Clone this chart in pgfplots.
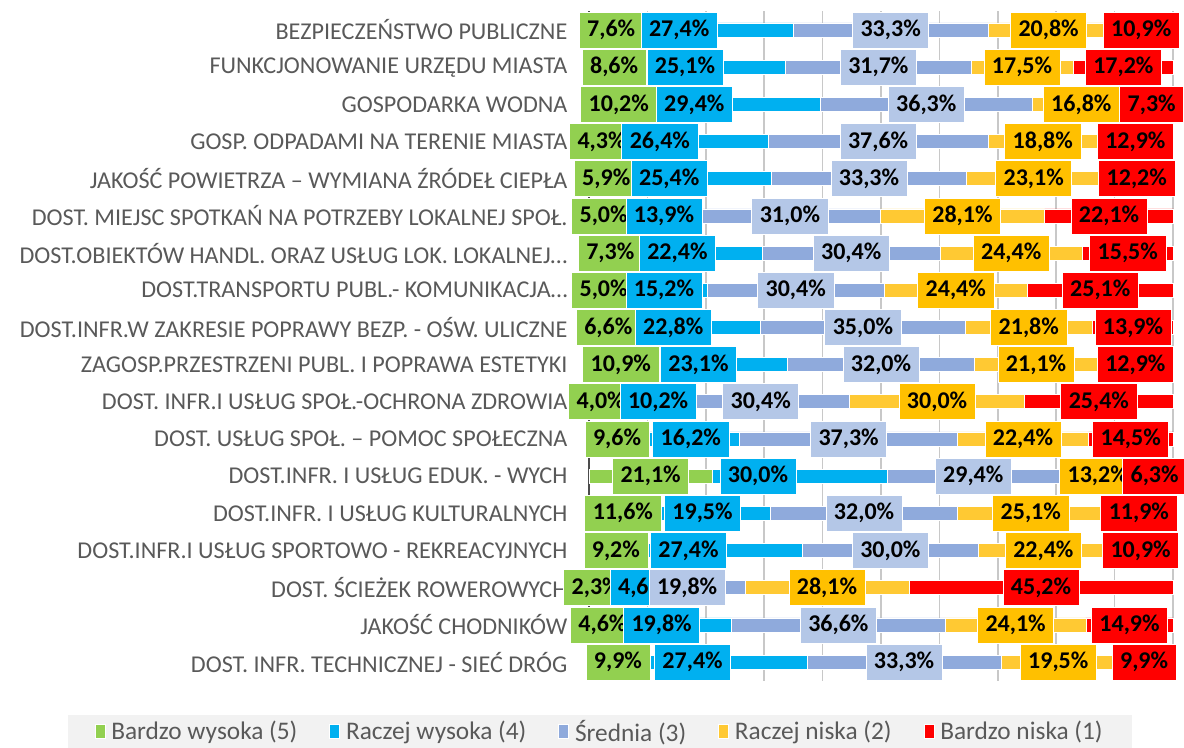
\documentclass[border=0pt]{standalone}
\usepackage{pgfplots}
\pgfplotsset{compat=1.18}
\usepackage{pgfplotstable}
\usepackage{fontspec}
\setmainfont{Carlito}
\definecolor{cA}{HTML}{92D050}
\definecolor{cB}{HTML}{00B0F0}
\definecolor{cC}{HTML}{8FAADC}
\definecolor{cCl}{HTML}{B4C7E7}
\definecolor{cD}{HTML}{FFC933}
\definecolor{cDl}{HTML}{FFC000}
\definecolor{cE}{HTML}{FF0000}
\definecolor{txtgray}{HTML}{595959}
\definecolor{gridgray}{HTML}{C8C8C8}
\definecolor{leggray}{HTML}{F2F2F2}

\pgfplotstableread{
idx a b c d e
0 7.6 27.4 33.3 20.8 10.9
1 8.6 25.1 31.7 17.5 17.2
2 10.2 29.4 36.3 16.8 7.3
3 4.3 26.4 37.6 18.8 12.9
4 5.9 25.4 33.3 23.1 12.2
5 5.0 13.9 31.0 28.1 22.1
6 7.3 22.4 30.4 24.4 15.5
7 5.0 15.2 30.4 24.4 25.1
8 6.6 22.8 35.0 21.8 13.9
9 10.9 23.1 32.0 21.1 12.9
10 4.0 10.2 30.4 30.0 25.4
11 9.6 16.2 37.3 22.4 14.5
12 21.1 30.0 29.4 13.2 6.3
13 11.6 19.5 32.0 25.1 11.9
14 9.2 27.4 30.0 22.4 10.9
15 2.3 4.6 19.8 28.1 45.2
16 4.6 19.8 36.6 24.1 14.9
17 9.9 27.4 33.3 19.5 9.9
}\data

\pgfplotsset{
  common/.style={
    at={(441.75pt,49.8pt)}, anchor=south west,
    scale only axis, width=438pt, height=501.9pt,
    xmin=0, xmax=100, ymin=-0.5, ymax=17.5, y dir=reverse,
    clip=false,
  },
  lblplot/.style={draw=none, mark=none, point meta=explicit,
    nodes near coords={\pgfmathprintnumber[fixed,fixed zerofill,precision=1,use comma,assume math mode=true]{\pgfplotspointmeta}\%}},
}
\tikzset{
  lbl/.style={font=\fontsize{18}{18}\bfseries\selectfont, text=black, inner xsep=6pt, inner ysep=0pt,
    minimum height=27pt, draw=white, line width=0.5pt, fill=#1},
}

\begin{document}
\begin{tikzpicture}
\path[use as bounding box] (0,0) rectangle (888pt,560.25pt);
\begin{axis}[
  common,
  xbar stacked, bar width=10.5pt,
  axis x line*=bottom, axis y line*=left,
  x axis line style={draw=none},
  y axis line style={draw=black!70, line width=1.5pt},
  xtick={0,10,...,100}, xticklabels={,,},
  xmajorgrids, major grid style={draw=gridgray, line width=1.2pt},
  ytick={0,...,17},
  yticklabels={
    {BEZPIECZEŃSTWO PUBLICZNE},
    {FUNKCJONOWANIE URZĘDU MIASTA},
    {GOSPODARKA WODNA\ },
    {GOSP. ODPADAMI NA TERENIE MIASTA},
    {JAKOŚĆ POWIETRZA – WYMIANA ŹRÓDEŁ CIEPŁA},
    {DOST. MIEJSC SPOTKAŃ NA POTRZEBY LOKALNEJ SPOŁ.},
    {DOST.OBIEKTÓW HANDL. ORAZ USŁUG LOK. LOKALNEJ…},
    {DOST.TRANSPORTU PUBL.- KOMUNIKACJA…},
    {DOST.INFR.W ZAKRESIE POPRAWY BEZP. - OŚW. ULICZNE},
    {ZAGOSP.PRZESTRZENI PUBL. I POPRAWA ESTETYKI},
    {DOST. INFR.I USŁUG SPOŁ.-OCHRONA ZDROWIA},
    {DOST. USŁUG SPOŁ. – POMOC SPOŁECZNA},
    {DOST.INFR. I USŁUG EDUK. - WYCH},
    {DOST.INFR. I USŁUG KULTURALNYCH\ },
    {DOST.INFR.I USŁUG SPORTOWO - REKREACYJNYCH},
    {DOST. ŚCIEŻEK ROWEROWYCH},
    {JAKOŚĆ CHODNIKÓW},
    {DOST. INFR. TECHNICZNEJ - SIEĆ DRÓG}
  },
  tick style={draw=none},
  yticklabel style={font=\fontsize{18.1}{18}\selectfont, text=txtgray, anchor=east, inner sep=0pt, xshift=-16pt},
  legend columns=-1,
  legend cell align=left,
  legend image code/.code={\fill[#1] (0pt,-5pt) rectangle (7.5pt,5pt); \path (10pt,0pt);},
  legend style={
    at={(0.0188,-0.076)}, anchor=center,
    fill=leggray, draw=none,
    font=\fontsize{19}{19}\selectfont, text=txtgray,
    inner xsep=20pt, inner ysep=2pt,
    /tikz/every even column/.append style={column sep=22pt},
  },
]
\addplot[fill=cA, draw=white, line width=0.5pt] table[x=a,y=idx]{\data};
\addlegendentry{Bardzo wysoka (5)}
\addplot[fill=cB, draw=white, line width=0.5pt] table[x=b,y=idx]{\data};
\addlegendentry{Raczej wysoka (4)}
\addplot[fill=cC, draw=white, line width=0.5pt] table[x=c,y=idx]{\data};
\addlegendentry{Średnia (3)}
\addplot[fill=cD, draw=white, line width=0.5pt] table[x=d,y=idx]{\data};
\addlegendentry{Raczej niska (2)}
\addplot[fill=cE, draw=white, line width=0.5pt] table[x=e,y=idx]{\data};
\addlegendentry{Bardzo niska (1)}
\end{axis}

\begin{axis}[common, hide axis]
\addplot[lblplot, nodes near coords align={center}, every node near coord/.style={lbl=cA, anchor=center}]
  table[x expr=\thisrow{a}/2, y=idx, meta=a]{\data};
\addplot[lblplot, nodes near coords align={west}, every node near coord/.style={lbl=cB, anchor=west, xshift=5.5pt}]
  table[x expr=\thisrow{a}, y=idx, meta=b]{\data};
\addplot[lblplot, nodes near coords align={center}, every node near coord/.style={lbl=cCl, anchor=center}]
  table[x expr=\thisrow{a}+\thisrow{b}+\thisrow{c}/2, y=idx, meta=c]{\data};
\addplot[lblplot, nodes near coords align={center}, every node near coord/.style={lbl=cDl, anchor=center}]
  table[x expr=\thisrow{a}+\thisrow{b}+\thisrow{c}+\thisrow{d}/2, y=idx, meta=d]{\data};
\addplot[lblplot, nodes near coords align={center}, every node near coord/.style={lbl=cE, anchor=center}]
  table[x expr=\thisrow{a}+\thisrow{b}+\thisrow{c}+\thisrow{d}+\thisrow{e}/2, y=idx, meta=e]{\data};
\end{axis}
\end{tikzpicture}
\end{document}
